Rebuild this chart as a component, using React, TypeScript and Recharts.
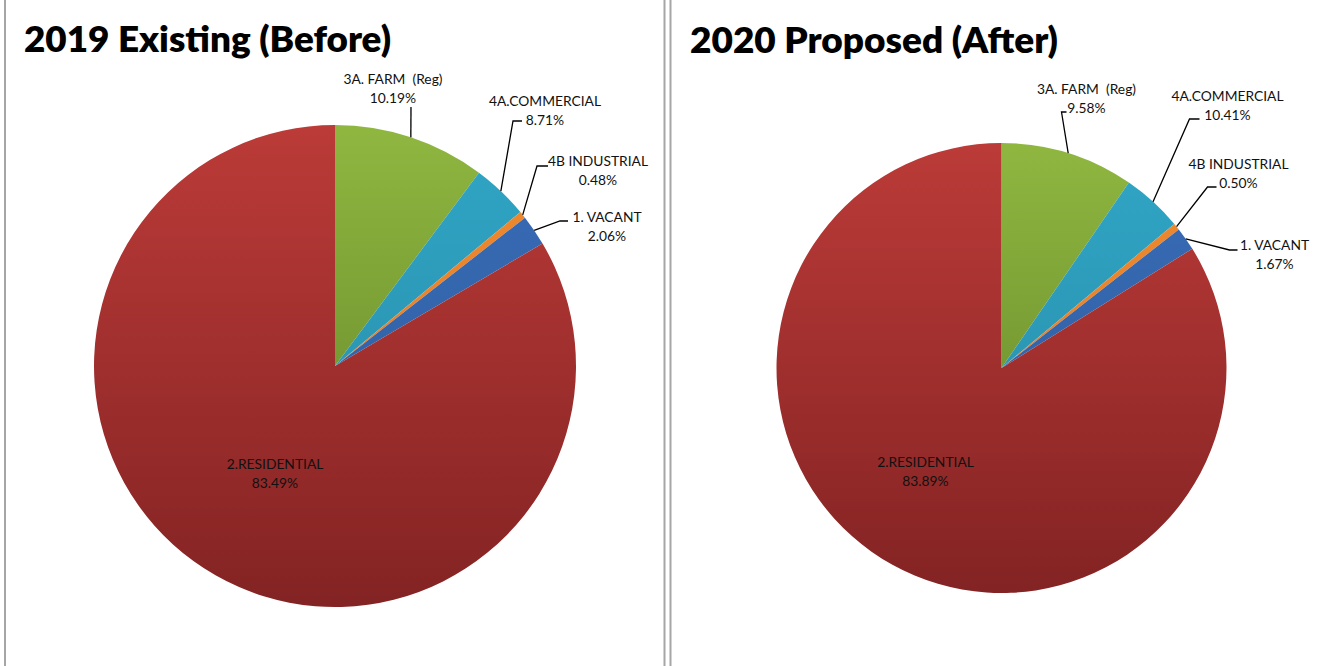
import React from "react";
import { PieChart, Pie, Cell } from "recharts";

const categories = ["3A. FARM  (Reg)", "4A.COMMERCIAL", "4B INDUSTRIAL", "1. VACANT", "2.RESIDENTIAL"];
// slice shares as drawn in the picture
const share2019 = [10.19, 3.78, 0.48, 2.06, 83.49];
const share2020 = [9.58, 4.36, 0.5, 1.67, 83.89];
// percentages printed on the labels
const printed2019 = ["10.19%", "8.71%", "0.48%", "2.06%", "83.49%"];
const printed2020 = ["9.58%", "10.41%", "0.50%", "1.67%", "83.89%"];

const titles = ["2019 Existing (Before)", "2020 Proposed (After)"];

const colorTop = ["#8fb740", "#31a6c6", "#f08a30", "#386cb6", "#bb3b38"];
const colorBottom = ["#5e7e26", "#2488a2", "#e07a25", "#2e5c9e", "#832323"];

const data2019 = categories.map((name, i) => ({ name, value: share2019[i], text: printed2019[i] }));
const data2020 = categories.map((name, i) => ({ name, value: share2020[i], text: printed2020[i] }));

// label placement relative to pie centre: elbow, end of leader, text centre
type Place = { elbow?: number[]; end?: number[]; text: number[] };
const place2019: Place[] = [
  { elbow: [76, -259], end: [76, -259], text: [58, -288] },
  { elbow: [178, -245], end: [187, -245], text: [210, -266] },
  { elbow: [202, -200], end: [213, -200], text: [263, -206] },
  { elbow: [225, -145], end: [233, -145], text: [272, -150] },
  { text: [-60, 97] },
];
const place2020: Place[] = [
  { elbow: [60, -256], end: [65, -256], text: [85, -280] },
  { elbow: [188, -249], end: [198, -249], text: [226, -273] },
  { elbow: [206, -181], end: [215, -181], text: [237, -205] },
  { elbow: [228, -118], end: [236, -118], text: [273, -124] },
  { text: [-76, 93] },
];

const RAD = Math.PI / 180;

const makeLabel = (place: Place[]) => (props: any) => {
  const { cx, cy, midAngle, outerRadius, index, payload } = props;
  const p = place[index];
  const sx = cx + outerRadius * Math.cos(-midAngle * RAD);
  const sy = cy + outerRadius * Math.sin(-midAngle * RAD);
  const tx = cx + p.text[0];
  const ty = cy + p.text[1];
  const text = payload?.text ?? props.text;
  const name = payload?.name ?? props.name;
  return (
    <g key={`lbl-${index}`}>
      {p.elbow && (
        <polyline
          points={`${sx},${sy} ${cx + p.elbow[0]},${cy + p.elbow[1]} ${cx + p.end![0]},${cy + p.end![1]}`}
          fill="none"
          stroke="#000"
          strokeWidth={1.3}
        />
      )}
      <text x={tx} y={ty} textAnchor="middle" dominantBaseline="central" fontSize={13.8} fill="#111" style={{ whiteSpace: "pre" }}>
        {name}
      </text>
      <text x={tx} y={ty + 19.5} textAnchor="middle" dominantBaseline="central" fontSize={13.8} fill="#111">
        {text}
      </text>
    </g>
  );
};

const pies = [
  { id: "a", data: data2019, cx: 335, cy: 366, r: 241, place: place2019 },
  { id: "b", data: data2020, cx: 1001.5, cy: 368, r: 225, place: place2020 },
];

export default function App() {
  return (
    <div style={{ position: "absolute", left: 0, top: 0, width: 1331, height: 666, background: "#fff", fontFamily: "Lato, sans-serif" }}>
      <svg width={0} height={0} style={{ position: "absolute" }}>
        <defs>
          {pies.map((p) =>
            colorTop.map((c, i) => (
              <linearGradient key={`${p.id}${i}`} id={`g${p.id}${i}`} gradientUnits="userSpaceOnUse" x1={0} x2={0} y1={p.cy - p.r} y2={p.cy + p.r}>
                <stop offset="0%" stopColor={c} />
                <stop offset="100%" stopColor={colorBottom[i]} />
              </linearGradient>
            ))
          )}
        </defs>
      </svg>
      <PieChart width={1331} height={666} margin={{ top: 0, right: 0, bottom: 0, left: 0 }} style={{ position: "absolute", left: 0, top: 0 }}>
        {pies.map((p) => (
          <Pie
            key={p.id}
            data={p.data}
            dataKey="value"
            nameKey="name"
            cx={p.cx}
            cy={p.cy}
            outerRadius={p.r}
            startAngle={90}
            endAngle={-270}
            stroke="none"
            isAnimationActive={false}
            labelLine={false}
            label={makeLabel(p.place)}
          >
            {p.data.map((d, i) => (
              <Cell key={`c-${i}`} fill={`url(#g${p.id}${i})`} />
            ))}
          </Pie>
        ))}
      </PieChart>
      <svg width={1331} height={666} style={{ position: "absolute", left: 0, top: 0, pointerEvents: "none" }}>
        <rect x={4} y={0} width={2} height={666} fill="#a6a6a6" />
        <rect x={663.5} y={0} width={2} height={666} fill="#a6a6a6" />
        <rect x={669.5} y={0} width={2} height={666} fill="#a6a6a6" />
        <text x={24} y={52} fontSize={36} fontWeight={800} fill="#000" textLength={367} lengthAdjust="spacingAndGlyphs">
          {titles[0]}
        </text>
        <text x={690} y={53} fontSize={36} fontWeight={800} fill="#000" textLength={368} lengthAdjust="spacingAndGlyphs">
          {titles[1]}
        </text>
      </svg>
    </div>
  );
}
